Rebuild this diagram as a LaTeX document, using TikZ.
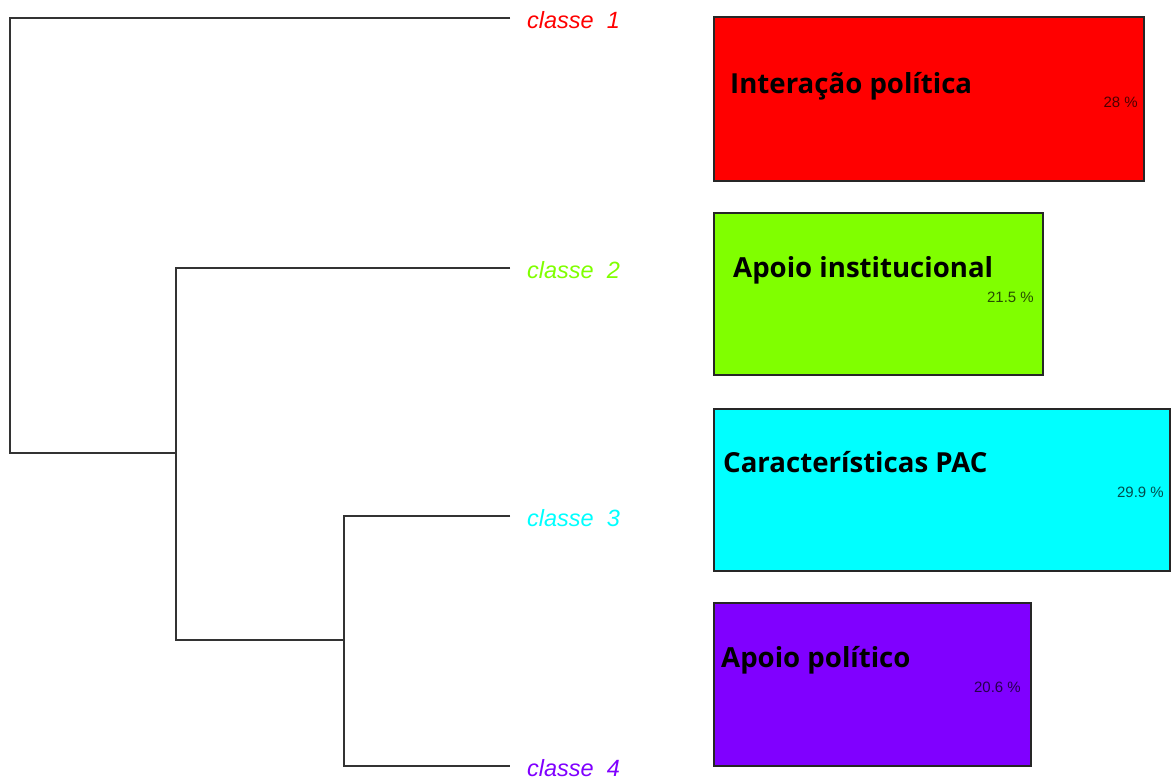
\documentclass[tikz,border=0pt]{standalone}
\usepackage{fontspec}
\setmainfont{Liberation Sans}
\newfontfamily\titlefont{Open Sans}
\definecolor{cA}{HTML}{FF0000}
\definecolor{cB}{HTML}{80FF00}
\definecolor{cC}{HTML}{00FFFF}
\definecolor{cD}{HTML}{8000FF}
\definecolor{branch}{HTML}{333333}
\begin{document}
\begin{tikzpicture}[x=1pt,y=-1pt,
  branchline/.style={draw=branch,line width=1.6pt},
  leaflabel/.style={anchor=west,inner sep=0pt,font=\fontsize{23.5}{23.5}\selectfont\itshape},
  classbox/.style={draw=black!85,line width=1.2pt},
  boxtitle/.style={anchor=base west,inner sep=0pt,font=\titlefont\bfseries\fontsize{27.6}{27.6}\selectfont},
  pct/.style={anchor=base east,inner sep=0pt,text=black,text opacity=0.7,font=\fontsize{15}{15}\selectfont}]
\useasboundingbox (0,0) rectangle (1172,781);
\fill[white] (0,0) rectangle (1172,781);

% dendrogram junctions and leaves
\coordinate (l1) at (510,18);
\coordinate (l2) at (510,268);
\coordinate (l3) at (510,516);
\coordinate (l4) at (510,766);
\coordinate (n34) at (344,640);
\coordinate (n234) at (176,453);
\coordinate (root) at (10,453);

\draw[branchline] (l3) -| (n34) |- (l4);
\draw[branchline] (l2) -| (n234) |- (n34);
\draw[branchline] (l1) -| (root) -- (n234);

% leaf labels
\node[leaflabel,text=cA] (t1) at (527,20) {classe\ \ 1};
\node[leaflabel,text=cB] (t2) at (527,270) {classe\ \ 2};
\node[leaflabel,text=cC] (t3) at (527,518) {classe\ \ 3};
\node[leaflabel,text=cD] (t4) at (527,768) {classe\ \ 4};

% class boxes
\draw[classbox,fill=cA] (714,17) rectangle (1144,181);
\draw[classbox,fill=cB] (714,213) rectangle (1043,375);
\draw[classbox,fill=cC] (714,409) rectangle (1170,571);
\draw[classbox,fill=cD] (714,603) rectangle (1031,766);

\node[boxtitle] (h1) at (730,94) {Interação política};
\node[boxtitle] (h2) at (733,277) {Apoio institucional};
\node[boxtitle] (h3) at (723,472) {Características PAC};
\node[boxtitle] (h4) at (721,667) {Apoio político};

\node[pct] (p1) at (1138,108) {28 \%};
\node[pct] (p2) at (1034,302) {21.5 \%};
\node[pct] (p3) at (1164,497) {29.9 \%};
\node[pct] (p4) at (1021,692) {20.6 \%};
\end{tikzpicture}
\end{document}
